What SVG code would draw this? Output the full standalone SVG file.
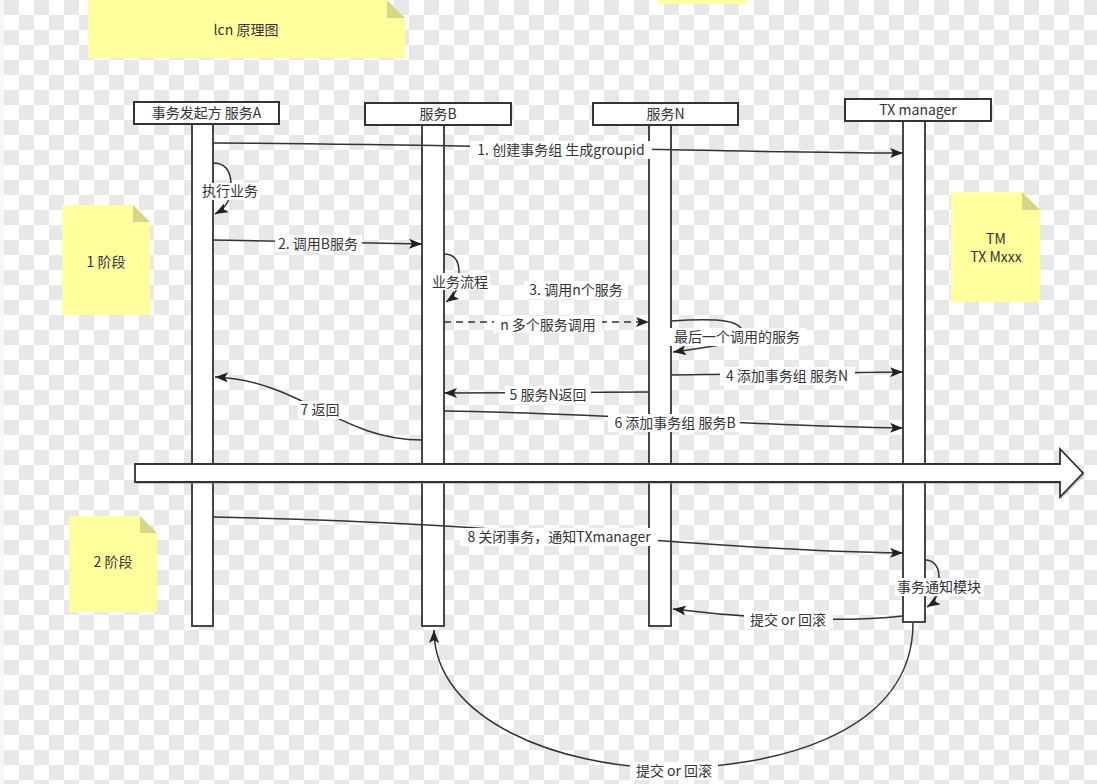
<svg xmlns="http://www.w3.org/2000/svg" width="1097" height="784" viewBox="0 0 1097 784">
<style>
text{font-family:"Noto Sans CJK SC","Noto Sans",sans-serif;font-size:14px;fill:#333;text-anchor:middle}
.hd{fill:#fff;stroke:#333;stroke-width:2}
.bar{fill:#fff;stroke:#333;stroke-width:1.8}
.note{fill:#ffff9e}
.fold{fill:#d6d686}
.ln{fill:none;stroke:#333;stroke-width:1.5}
.bg{fill:#fff}
</style>
<defs>
<pattern id="chk" x="4" y="0" width="30" height="30" patternUnits="userSpaceOnUse">
<rect width="30" height="30" fill="#fff"/>
<rect width="15" height="15" fill="#e8e8e8"/>
<rect x="15" y="15" width="15" height="15" fill="#e8e8e8"/>
</pattern>
<marker id="ar" markerUnits="userSpaceOnUse" markerWidth="14" markerHeight="10" refX="13" refY="5" orient="auto">
<path d="M0,0 L13,5 L0,10 L3,5 Z" fill="#222"/>
</marker>
</defs>
<rect width="1097" height="784" fill="url(#chk)"/>
<rect width="4" height="784" fill="#f7f7f7"/>

<g id="note-title">
<path class="note" d="M88,0 L387,0 L405,18 L405,58 L88,58 Z"/>
<path class="fold" d="M387,0 L387,18 L405,18 Z"/>
<text x="246" y="35">lcn 原理图</text>
</g>
<g id="note-top2"><rect class="note" x="658" y="0" width="88" height="4"/></g>
<g id="note-phase1">
<path class="note" d="M62,205 L133,205 L150,222 L150,315 L62,315 Z"/>
<path class="fold" d="M133,205 L133,222 L150,222 Z"/>
<text x="106" y="267">1 阶段</text>
</g>
<g id="note-tm">
<path class="note" d="M951,192 L1022,192 L1040,210 L1040,302 L951,302 Z"/>
<path class="fold" d="M1022,192 L1022,210 L1040,210 Z"/>
<text x="996" y="244">TM</text>
<text x="996" y="262">TX Mxxx</text>
</g>
<g id="note-phase2">
<path class="note" d="M69,516 L140,516 L157,533 L157,612 L69,612 Z"/>
<path class="fold" d="M140,516 L140,533 L157,533 Z"/>
<text x="113" y="567">2 阶段</text>
</g>

<g id="lifeline-a">
<rect class="bar" x="192" y="124" width="21" height="502"/>
<rect class="hd" x="134" y="102" width="145" height="22"/>
<text x="206.5" y="118">事务发起方 服务A</text>
</g>
<g id="lifeline-b">
<rect class="bar" x="422" y="125" width="22" height="501"/>
<rect class="hd" x="365" y="103" width="146" height="22"/>
<text x="438" y="119">服务B</text>
</g>
<g id="lifeline-n">
<rect class="bar" x="649" y="125" width="22" height="501"/>
<rect class="hd" x="593" y="103" width="145" height="22"/>
<text x="665.5" y="119">服务N</text>
</g>
<g id="lifeline-tm">
<rect class="bar" x="903" y="121" width="22" height="501"/>
<rect class="hd" x="845" y="99" width="146" height="22"/>
<text x="918" y="115">TX manager</text>
</g>

<g id="phase-arrow">
<path d="M136,466 L1061,466 L1061,451 L1085,475 L1061,499 L1061,484 L136,484 Z" fill="#999" opacity="0.5"/>
<path d="M135,464 L1060,464 L1060,449 L1083,473 L1060,497 L1060,482 L135,482 Z" fill="#fff" stroke="#333" stroke-width="1.8"/>
</g>

<g id="connectors">
<path class="ln" d="M213,143 C450,144 700,152 903,153" marker-end="url(#ar)"/>
<path class="ln" d="M213,163 C226,163 231,172 231,185 C231,200 226,208 215,214" marker-end="url(#ar)"/>
<path class="ln" d="M213,240 L422,244" marker-end="url(#ar)"/>
<path class="ln" d="M444,254 C455,254 459,262 459,272 C459,288 455,296 446,302" marker-end="url(#ar)"/>
<path class="ln" d="M444,322 L649,322" stroke-dasharray="7,5" marker-end="url(#ar)"/>
<path class="ln" d="M671,321 C720,318 745,320 742,335 C738,345 700,348 673,352" marker-end="url(#ar)"/>
<path class="ln" d="M671,375 L903,372" marker-end="url(#ar)"/>
<path class="ln" d="M649,392 L444,393" marker-end="url(#ar)"/>
<path class="ln" d="M444,411 C600,413 750,426 903,428" marker-end="url(#ar)"/>
<path class="ln" d="M422,440 C340,440 300,380 215,377" marker-end="url(#ar)"/>
<path class="ln" d="M213,517 C500,522 700,550 903,553" marker-end="url(#ar)"/>
<path class="ln" d="M925,560 C934,560 939,567 939,577 C939,595 935,602 927,607" marker-end="url(#ar)"/>
<path class="ln" d="M903,616 C850,622 760,620 673,609" marker-end="url(#ar)"/>
<path class="ln" d="M913,623 C913,740 760,768 670,768 C560,768 434,720 434,630" marker-end="url(#ar)"/>

<rect class="bg" x="470" y="141" width="182" height="18"/>
<text x="561" y="155">1. 创建事务组 生成groupid</text>
<rect class="bg" x="200" y="183" width="60" height="17"/>
<text x="230" y="196">执行业务</text>
<rect class="bg" x="275" y="235" width="87" height="17"/>
<text x="318" y="249">2. 调用B服务</text>
<rect class="bg" x="430" y="273" width="60" height="17"/>
<text x="460" y="287">业务流程</text>
<rect class="bg" x="524" y="281" width="104" height="18"/>
<text x="576" y="295">3. 调用n个服务</text>
<rect class="bg" x="494" y="316" width="108" height="17"/>
<text x="548" y="330">n 多个服务调用</text>
<rect class="bg" x="668" y="328" width="138" height="18"/>
<text x="737" y="342">最后一个调用的服务</text>
<rect class="bg" x="720" y="367" width="135" height="18"/>
<text x="787" y="381">4 添加事务组 服务N</text>
<rect class="bg" x="505" y="386" width="86" height="18"/>
<text x="548" y="400">5 服务N返回</text>
<rect class="bg" x="608" y="414" width="132" height="18"/>
<text x="675" y="428">6 添加事务组 服务B</text>
<rect class="bg" x="298" y="401" width="44" height="18"/>
<text x="320" y="415">7 返回</text>
<rect class="bg" x="460" y="528" width="198" height="18"/>
<text x="559" y="542">8 关闭事务，通知TXmanager</text>
<rect class="bg" x="895" y="578" width="89" height="18"/>
<text x="939" y="592">事务通知模块</text>
<rect class="bg" x="744" y="611" width="89" height="18"/>
<text x="788" y="625">提交 or 回滚</text>
<rect class="bg" x="630" y="762" width="88" height="18"/>
<text x="674" y="776">提交 or 回滚</text>
</g>
</svg>
